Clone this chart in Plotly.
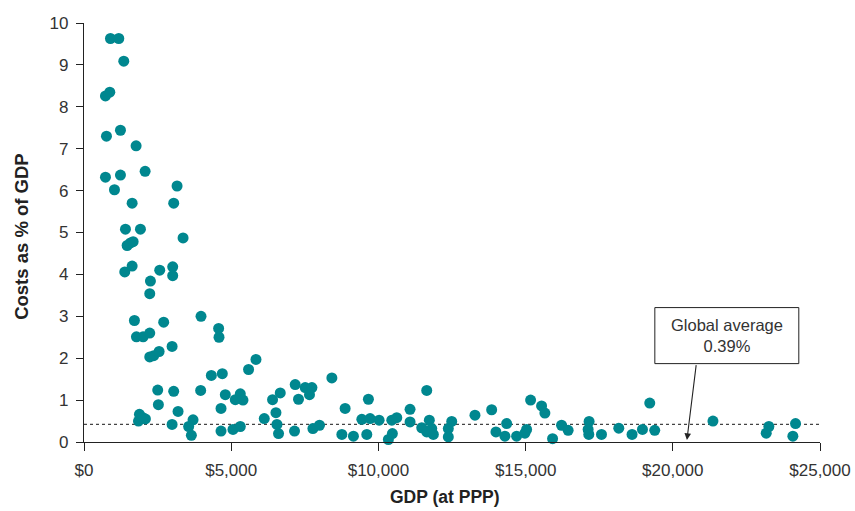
import plotly.graph_objects as go

gdp = [899, 1181, 1351, 729, 876, 763, 1238, 1770, 729, 1238, 1035, 2076, 3161, 1635, 3047,
       1408, 1917, 1465, 1577, 1669, 3365, 1385, 1635, 2572, 3013, 3013, 2256, 2233, 1713, 2707,
       3975, 1781, 2008, 2233, 4573, 4586, 2233, 2368, 2551, 2992, 5841, 5590, 4325, 4698, 2504,
       3047, 3963, 4800, 5309, 5139, 5400, 2527, 4654, 3195, 1850, 1883, 2086, 2000, 2992, 3704,
       3555, 3647, 4654, 5061, 5309, 6123, 6405, 6666, 6520, 6554, 6608, 7174, 7286, 7514, 7741,
       7659, 7151, 7775, 7999, 8419, 8870, 8759, 9152, 9661, 9437, 9718, 10024, 9606, 10455, 10624,
       10339, 10475, 11075, 11075, 11642, 11472, 11730, 11812, 11642, 11866, 12375, 12490, 12375,
       13280, 13847, 13993, 14298, 14356, 14695, 15034, 14977, 15170, 15543, 15655, 15916, 16221,
       16445, 17157, 17124, 17147, 17578, 18165, 18616, 18969, 19217, 19386, 21364, 23263, 23174,
       24169, 24078]
cost = [9.63, 9.63, 9.09, 8.26, 8.35, 7.30, 7.44, 7.07, 6.32, 6.37, 6.02, 6.46, 6.11, 5.70, 5.70,
        5.08, 5.08, 4.69, 4.75, 4.78, 4.87, 4.06, 4.20, 4.10, 4.18, 3.97, 3.84, 3.54, 2.90, 2.86,
        3.00, 2.51, 2.51, 2.60, 2.71, 2.50, 2.03, 2.06, 2.16, 2.28, 1.97, 1.73, 1.59, 1.63, 1.24,
        1.21, 1.23, 1.13, 1.15, 1.01, 1.00, 0.89, 0.80, 0.73, 0.50, 0.66, 0.55, 0.58, 0.42, 0.53,
        0.37, 0.16, 0.26, 0.30, 0.37, 0.56, 1.01, 1.17, 0.70, 0.42, 0.20, 1.37, 1.02, 1.30, 1.30,
        1.13, 0.26, 0.32, 0.40, 1.53, 0.80, 0.18, 0.14, 1.02, 0.54, 0.56, 0.52, 0.18, 0.52, 0.58,
        0.06, 0.20, 0.78, 0.48, 1.23, 0.34, 0.52, 0.32, 0.24, 0.18, 0.32, 0.49, 0.12,
        0.64, 0.77, 0.24, 0.14, 0.44, 0.14, 0.30, 0.21, 1.00, 0.86, 0.69, 0.08, 0.40,
        0.28, 0.49, 0.30, 0.18, 0.18, 0.33, 0.18, 0.30, 0.93, 0.28, 0.50, 0.37, 0.21,
        0.44, 0.14]

x_ticks = [0, 5000, 10000, 15000, 20000, 25000]
x_labels = ["$0", "$5,000", "$10,000", "$15,000", "$20,000", "$25,000"]
y_ticks = list(range(0, 11))
avg_line = 0.42
avg_label = "Global average<br>0.39%"

FONT = "Liberation Sans, Arial, Helvetica, sans-serif"
TEAL = "#00878F"
TXT = "#333333"

fig = go.Figure()
fig.add_trace(go.Scatter(x=[0, 25000], y=[avg_line, avg_line], mode="lines",
                         line=dict(color="#444444", width=1.3, dash="dot"),
                         hoverinfo="skip", showlegend=False))
fig.add_trace(go.Scatter(x=gdp, y=cost, mode="markers",
                         marker=dict(color=TEAL, size=11, line=dict(width=0)),
                         cliponaxis=False, showlegend=False))

fig.update_layout(
    width=855, height=511,
    margin=dict(l=83.5, r=34.5, t=22.7, b=69.3),
    paper_bgcolor="white", plot_bgcolor="white",
    font=dict(family=FONT, color=TXT, size=16),
    showlegend=False,
)
fig.update_xaxes(range=[0, 25000], tickvals=x_ticks, ticktext=x_labels, automargin=False,
                 showgrid=False, zeroline=False, showline=True, linecolor="#222222", linewidth=1.2,
                 ticks="outside", ticklen=8, tickcolor="#222222", tickwidth=1.2,
                 ticklabelstandoff=4,
                 tickfont=dict(size=17, color=TXT, family=FONT))
fig.update_yaxes(range=[0, 10], tickvals=y_ticks, automargin=False,
                 showgrid=False, zeroline=False, showline=True, linecolor="#222222", linewidth=1.2,
                 ticks="outside", ticklen=7, tickcolor="#222222", tickwidth=1.2,
                 ticklabelstandoff=4,
                 tickfont=dict(size=17, color=TXT, family=FONT))

# axis titles
fig.add_annotation(text="<b>Costs as % of GDP</b>", xref="paper", yref="paper",
                   x=-0.084, y=0.49, textangle=-90, showarrow=False,
                   xanchor="center", yanchor="middle",
                   font=dict(size=18.5, color="#222222", family=FONT))
fig.add_annotation(text="<b>GDP (at PPP)</b>", xref="paper", yref="paper",
                   x=0.49, y=-0.132, showarrow=False, xanchor="center", yanchor="middle",
                   font=dict(size=17.5, color="#222222", family=FONT))

# callout box
fig.add_shape(type="rect", xref="x", yref="y", x0=19390, x1=24280, y0=1.871, y1=3.208,
              line=dict(color="#222222", width=1), fillcolor="white")
fig.add_annotation(text=avg_label, xref="x", yref="y", x=21835, y=2.54, showarrow=False,
                   font=dict(size=16.5, color=TXT, family=FONT))
fig.add_annotation(text="", xref="x", yref="y", x=20480, y=0.05,
                   axref="x", ayref="y", ax=20800, ay=1.871,
                   showarrow=True, arrowhead=2, arrowsize=1.2, arrowwidth=1.1, arrowcolor="#222222")

fig.write_html("out.html", config={"displayModeBar": False},
               post_script="document.body.style.margin='0';document.body.style.overflow='hidden';")
